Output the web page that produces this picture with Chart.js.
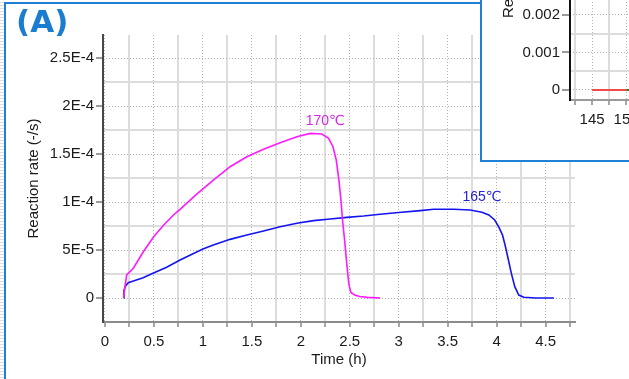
<!DOCTYPE html>
<html>
<head>
<meta charset="utf-8">
<script src="https://cdn.jsdelivr.net/npm/chart.js@4.4.1/dist/chart.umd.min.js"></script>
<style>
  html, body { margin: 0; padding: 0; background: #fff; }
  body { width: 629px; height: 379px; overflow: hidden; position: relative; }
  #stripes { position: absolute; left: 0; top: 0; width: 4px; height: 379px;
    background: repeating-linear-gradient(to bottom, #fff 0, #fff 2px, #dedede 2px, #dedede 3px); }
  #frame { position: absolute; left: 4px; top: 2px; width: 700px; height: 500px;
    border-left: 2px solid #1f80d6; border-top: 2px solid #1f80d6; }
  #mainWrap { position: absolute; left: 0; top: 0; width: 629px; height: 379px; }
  #panelTag { position: absolute; left: 16px; top: 3px; font: bold 31px "DejaVu Sans"; color: #1b7dcf; }
  #inset { position: absolute; left: 480px; top: -184px; width: 300px; height: 344px;
    border-left: 2px solid #1f80d6; border-bottom: 2px solid #1f80d6; background: #fff; overflow: hidden; }
  #insetWrap { position: absolute; left: 0; top: 0; width: 300px; height: 344px; }
</style>
</head>
<body>
<div id="stripes"></div>
<div id="frame"></div>
<div id="mainWrap"><canvas id="mainChart"></canvas></div>
<div id="panelTag">(A)</div>
<div id="inset"><div id="insetWrap"><canvas id="insetChart"></canvas></div></div>
<script>
// --- 170 C curve (time in h, rate in 1/s)
const time170 = [0.19, 0.2045, 0.222, 0.29, 0.392, 0.5, 0.6, 0.7, 0.767, 0.937, 1.107, 1.278, 1.449, 1.619, 1.789, 1.96, 2.096, 2.215, 2.284, 2.328, 2.362, 2.389, 2.41, 2.426, 2.447, 2.47, 2.49, 2.51, 2.55, 2.6, 2.68, 2.81];
const rate170 = [0, 0.118e-4, 0.24e-4, 0.31e-4, 0.482e-4, 0.64e-4, 0.76e-4, 0.865e-4, 0.924e-4, 1.083e-4, 1.229e-4, 1.368e-4, 1.472e-4, 1.549e-4, 1.618e-4, 1.68e-4, 1.715e-4, 1.708e-4, 1.663e-4, 1.576e-4, 1.4375e-4, 1.229e-4, 1.02e-4, 0.8125e-4, 0.604e-4, 0.35e-4, 0.15e-4, 0.06e-4, 0.03e-4, 0.015e-4, 0.007e-4, 0];

// --- 165 C curve
const time165 = [0.19, 0.194, 0.21, 0.238, 0.29, 0.39, 0.49, 0.63, 0.767, 1.0, 1.1, 1.278, 1.449, 1.619, 1.789, 1.96, 2.13, 2.3, 2.47, 2.64, 2.81, 3.0, 3.22, 3.357, 3.56, 3.73, 3.85, 3.92, 3.98, 4.02, 4.06, 4.09, 4.12, 4.15, 4.185, 4.226, 4.277, 4.4, 4.584];
const rate165 = [0, 0.08e-4, 0.125e-4, 0.16e-4, 0.177e-4, 0.21e-4, 0.257e-4, 0.32e-4, 0.396e-4, 0.51e-4, 0.55e-4, 0.611e-4, 0.656e-4, 0.698e-4, 0.743e-4, 0.778e-4, 0.806e-4, 0.823e-4, 0.84e-4, 0.854e-4, 0.872e-4, 0.89e-4, 0.91e-4, 0.924e-4, 0.924e-4, 0.917e-4, 0.893e-4, 0.865e-4, 0.8125e-4, 0.743e-4, 0.656e-4, 0.534e-4, 0.396e-4, 0.257e-4, 0.118e-4, 0.031e-4, 0.007e-4, 0, 0];

const seriesNames = ['170℃', '165℃'];
const seriesLabelTime = [2.25, 3.85];
const seriesLabelRate = [1.84e-4, 1.05e-4];

const xTickLabels = ['0', '0.5', '1', '1.5', '2', '2.5', '3', '3.5', '4', '4.5'];
const yTickLabels = ['0', '5E-5', '1E-4', '1.5E-4', '2E-4', '2.5E-4'];

// inset (partly visible)
const insetRedX = [145, 150];
const insetRedY = [0, 0];
const insetGreenX = [150, 156];
const insetGreenY = [0, 0];
const insetYTickLabels = ['0', '0.001', '0.002', '0.003', '0.004', '0.005', '0.006', '0.007'];

Chart.defaults.font.family = '"Liberation Sans", Arial, sans-serif';
Chart.defaults.font.size = 15;
Chart.defaults.color = '#1a1a1a';

const toPoints = (xs, ys) => xs.map((x, i) => ({ x: x, y: ys[i] }));

// which step a value sits on (null if not on the grid)
function stepIndex(v, step) {
    const k = Math.round(v / step);
    return Math.abs(v - k * step) < step * 1e-4 ? k : null;
}

const clear = 'rgba(0,0,0,0)';
const minorGrid = '#dcdcdc';
const dotGrid = '#b4b4b4';

function zeroPad(scale) {
    scale.paddingTop = 0; scale.paddingBottom = 0;
    scale.paddingLeft = 0; scale.paddingRight = 0;
}

const seriesLabelPlugin = {
    id: 'seriesLabels',
    afterDatasetsDraw(chart) {
        const ctx = chart.ctx;
        const xs = chart.scales.x, ys = chart.scales.y;
        ctx.save();
        ctx.font = '14px "Liberation Sans", "DejaVu Sans", sans-serif';
        ctx.textAlign = 'center';
        ctx.textBaseline = 'middle';
        seriesNames.forEach((name, i) => {
            ctx.fillStyle = i === 0 ? '#d426e6' : '#2323d8';
            ctx.fillText(name, xs.getPixelForValue(seriesLabelTime[i]), ys.getPixelForValue(seriesLabelRate[i]));
        });
        ctx.restore();
    }
};

new Chart(document.getElementById('mainChart'), {
    type: 'line',
    data: {
        datasets: [{
            label: seriesNames[0],
            data: toPoints(time170, rate170),
            borderColor: '#ff1aff',
            borderWidth: 1.6,
            pointRadius: 0,
            tension: 0,
            fill: false
        }, {
            label: seriesNames[1],
            data: toPoints(time165, rate165),
            borderColor: '#1414f0',
            borderWidth: 1.6,
            pointRadius: 0,
            tension: 0,
            fill: false
        }]
    },
    options: {
        responsive: true,
        maintainAspectRatio: false,
        animation: false,
        layout: { padding: { left: 0, top: 35, right: 54, bottom: 0 } },
        plugins: { legend: { display: false }, tooltip: { enabled: false } },
        scales: {
            x: {
                type: 'linear',
                position: 'bottom',
                min: -0.02,
                max: 4.8,
                ticks: {
                    stepSize: 0.25,
                    includeBounds: false,
                    autoSkip: false,
                    maxRotation: 0,
                    padding: 6,
                    color: '#1a1a1a',
                    callback: (v) => {
                        const k = stepIndex(v, 0.5);
                        return (k !== null && k >= 0 && k < xTickLabels.length) ? xTickLabels[k] : '';
                    }
                },
                grid: {
                    color: (c) => {
                        const k = stepIndex(c.tick.value, 0.25);
                        return (k !== null && k > 0 && k % 2 === 1) ? minorGrid : clear;
                    },
                    lineWidth: 2,
                    tickLength: 5,
                    tickWidth: 1.5,
                    tickColor: (c) => {
                        const k = stepIndex(c.tick.value, 0.25);
                        return (k !== null && k >= 0) ? '#8a8a8a' : clear;
                    }
                },
                border: { display: true, color: '#8c8c8c', width: 2 },
                title: { display: true, text: 'Time (h)', padding: { top: 0, bottom: 10 }, color: '#1a1a1a' },
                afterFit: (s) => { s.height = 57; zeroPad(s); }
            },
            xg: {
                type: 'linear',
                position: 'bottom',
                min: -0.02,
                max: 4.8,
                ticks: { display: false, stepSize: 0.5, includeBounds: false },
                grid: {
                    drawTicks: false,
                    lineWidth: 1,
                    color: (c) => {
                        const k = stepIndex(c.tick.value, 0.5);
                        return (k !== null && k >= 0) ? dotGrid : clear;
                    }
                },
                border: { display: false, dash: [1, 2] },
                afterFit: (s) => { s.height = 0; zeroPad(s); }
            },
            y: {
                type: 'linear',
                position: 'left',
                min: -2.5e-5,
                max: 2.74e-4,
                ticks: {
                    stepSize: 2.5e-5,
                    includeBounds: false,
                    autoSkip: false,
                    padding: 2,
                    color: '#1a1a1a',
                    callback: (v) => {
                        const k = stepIndex(v, 5e-5);
                        return (k !== null && k >= 0 && k < yTickLabels.length) ? yTickLabels[k] : '';
                    }
                },
                grid: {
                    color: (c) => {
                        const k = stepIndex(c.tick.value, 2.5e-5);
                        return (k !== null && k > 0 && k % 2 === 1) ? minorGrid : clear;
                    },
                    lineWidth: 2,
                    tickLength: 7,
                    tickWidth: 1.5,
                    tickColor: (c) => {
                        const k = stepIndex(c.tick.value, 5e-5);
                        return (k !== null && k >= 0) ? '#7a7a7a' : clear;
                    }
                },
                border: { display: true, color: '#474747', width: 2 },
                title: { display: true, text: 'Reaction rate (-/s)', padding: { top: 25, bottom: 0 }, color: '#1a1a1a' },
                afterFit: (s) => { s.width = 103; zeroPad(s); }
            },
            yg: {
                type: 'linear',
                position: 'left',
                min: -2.5e-5,
                max: 2.74e-4,
                ticks: { display: false, stepSize: 5e-5, includeBounds: false },
                grid: {
                    drawTicks: false,
                    lineWidth: 1,
                    color: (c) => {
                        const k = stepIndex(c.tick.value, 5e-5);
                        return (k !== null && k >= 0) ? dotGrid : clear;
                    }
                },
                border: { display: false, dash: [1, 2] },
                afterFit: (s) => { s.width = 0; zeroPad(s); }
            }
        }
    },
    plugins: [seriesLabelPlugin]
});

// inset chart, cut by the page edge like in the figure
new Chart(document.getElementById('insetChart'), {
    type: 'line',
    data: {
        datasets: [{
            data: toPoints(insetRedX, insetRedY),
            borderColor: '#f24a4a',
            borderWidth: 2,
            pointRadius: 0,
            tension: 0
        }, {
            data: toPoints(insetGreenX, insetGreenY),
            borderColor: '#3f7a1c',
            borderWidth: 2,
            pointRadius: 0,
            tension: 0
        }]
    },
    options: {
        responsive: true,
        maintainAspectRatio: false,
        animation: false,
        layout: { padding: 0 },
        plugins: { legend: { display: false }, tooltip: { enabled: false } },
        scales: {
            x: {
                type: 'linear',
                position: 'bottom',
                min: 141.76,
                max: 172.9,
                ticks: {
                    stepSize: 2.5,
                    includeBounds: false,
                    autoSkip: false,
                    maxRotation: 0,
                    padding: 6,
                    color: '#1a1a1a',
                    callback: (v) => {
                        const k = stepIndex(v, 5);
                        return k !== null ? String(k * 5) : '';
                    }
                },
                grid: {
                    color: (c) => {
                        const k = stepIndex(c.tick.value, 2.5);
                        return (k !== null && k % 2 === 1) ? minorGrid : clear;
                    },
                    lineWidth: 2,
                    tickLength: 5,
                    tickWidth: 1.5,
                    tickColor: (c) => stepIndex(c.tick.value, 2.5) !== null ? '#8a8a8a' : clear
                },
                border: { display: true, color: '#9a9a9a', width: 2 },
                afterFit: (s) => { s.height = 60; zeroPad(s); }
            },
            xg: {
                type: 'linear',
                position: 'bottom',
                min: 141.76,
                max: 172.9,
                ticks: { display: false, stepSize: 5, includeBounds: false },
                grid: {
                    drawTicks: false,
                    lineWidth: 1,
                    color: (c) => stepIndex(c.tick.value, 5) !== null ? dotGrid : clear
                },
                border: { display: false, dash: [1, 2] },
                afterFit: (s) => { s.height = 0; zeroPad(s); }
            },
            y: {
                type: 'linear',
                position: 'left',
                min: -0.0002667,
                max: 0.0073067,
                ticks: {
                    stepSize: 0.0005,
                    includeBounds: false,
                    autoSkip: false,
                    padding: 2,
                    color: '#1a1a1a',
                    callback: (v) => {
                        const k = stepIndex(v, 0.001);
                        return (k !== null && k >= 0 && k < insetYTickLabels.length) ? insetYTickLabels[k] : '';
                    }
                },
                grid: {
                    color: (c) => {
                        const k = stepIndex(c.tick.value, 0.0005);
                        return (k !== null && k > 0 && k % 2 === 1) ? minorGrid : clear;
                    },
                    lineWidth: 2,
                    tickLength: 8,
                    tickWidth: 1.5,
                    tickColor: (c) => {
                        const k = stepIndex(c.tick.value, 0.001);
                        return (k !== null && k >= 0) ? '#7a7a7a' : clear;
                    }
                },
                border: { display: true, color: '#111', width: 2 },
                title: { display: true, text: 'Reaction rate (-/s)', padding: { top: 18, bottom: 0 }, color: '#1a1a1a' },
                afterFit: (s) => { s.width = 88; zeroPad(s); }
            },
            yg: {
                type: 'linear',
                position: 'left',
                min: -0.0002667,
                max: 0.0073067,
                ticks: { display: false, stepSize: 0.001, includeBounds: false },
                grid: {
                    drawTicks: false,
                    lineWidth: 1,
                    color: (c) => {
                        const k = stepIndex(c.tick.value, 0.001);
                        return (k !== null && k >= 0) ? dotGrid : clear;
                    }
                },
                border: { display: false, dash: [1, 2] },
                afterFit: (s) => { s.width = 0; zeroPad(s); }
            }
        }
    }
});
</script>
</body>
</html>
